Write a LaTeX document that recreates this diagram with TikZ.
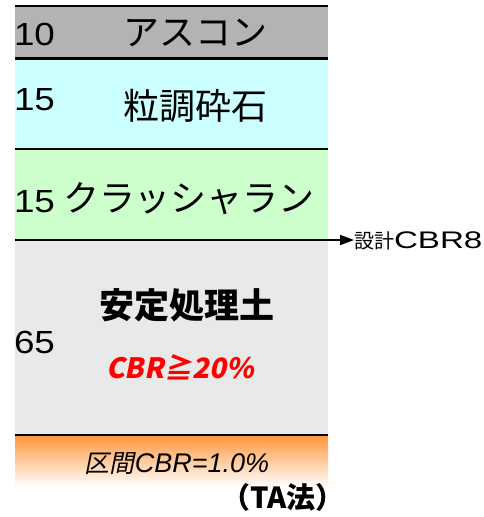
\documentclass[tikz,border=0pt]{standalone}
\usepackage{fontspec}
\setmainfont{Liberation Sans}
\newfontfamily\jp{Noto Sans CJK JP}
\newfontfamily\jpi[FakeSlant=0.2]{Noto Sans CJK JP}
\newfontfamily\latw[FakeStretch=1.15]{Liberation Sans}
\newfontfamily\latww[FakeStretch=1.38]{Liberation Sans}
\usetikzlibrary{arrows.meta}
\definecolor{asgray}{RGB}{179,179,179}
\definecolor{cyanL}{RGB}{204,255,255}
\definecolor{greenL}{RGB}{204,255,204}
\definecolor{lgray}{RGB}{233,233,233}
\definecolor{orangeT}{RGB}{255,150,60}
\definecolor{redT}{RGB}{255,0,0}
\tikzset{
  lbl/.style={inner sep=0pt, outer sep=0pt},
  bound/.style={line width=2.8pt},
  numf/.style={lbl, font=\latw\fontsize{32}{36}\selectfont},
  jpf/.style={lbl, font=\jp\fontsize{36}{40}\selectfont},
}
\begin{document}
\begin{tikzpicture}[x=1pt,y=-1pt]
\useasboundingbox (0,0) rectangle (483,517);
% layers
\fill[asgray] (15,6) rectangle (328,58);
\fill[cyanL] (15,58) rectangle (328,149);
\fill[greenL] (15,149) rectangle (328,240);
\fill[lgray] (15,240) rectangle (328,435);
\shade[top color=orangeT, bottom color=white] (15,435) rectangle (328,487);
% boundaries
\draw[bound] (15,6) -- (328,6);
\draw[bound] (15,58.5) -- (328,58.5);
\draw[bound] (15,149) -- (328,149);
\draw[bound] (15,435) -- (328,435);
% texts
\node[numf, anchor=base west] (n10) at (14,45) {10};
\node[jpf, anchor=base] (asc) at (195,45) {アスコン};
\node[numf, anchor=base west] (n15a) at (14,110) {15};
\node[jpf, anchor=base] (sek) at (195,119) {粒調砕石};
\node[numf, anchor=base west] (n15b) at (14,212) {15};
\node[jpf, anchor=base west] (cr) at (63,211) {クラッシャラン};
\node[lbl, anchor=base, font=\jp\bfseries\fontsize{35}{38}\selectfont] (antei) at (187,318) {安定処理土};
\node[numf, anchor=base west] (n65) at (14,353) {65};
\node[lbl, anchor=base, text=redT, font=\jpi\bfseries\fontsize{28}{32}\selectfont] (cbr20) at (180,378) {CBR≧20\%};
\node[lbl, anchor=base, font=\fontsize{27}{30}\selectfont] (kukan) at (177,472) {{\jpi\fontsize{25}{30}\selectfont 区間}{\itshape CBR=1.0\%}};
\node[lbl, anchor=base, font=\jp\bfseries\fontsize{29}{32}\selectfont] (ta) at (283,508) {（TA法）};
% design CBR arrow
\coordinate (lineL) at (15,240);
\node[lbl, anchor=base west] (cbr8) at (354,248) {{\jp\fontsize{20}{22}\selectfont 設計}{\latww\fontsize{24}{26}\selectfont CBR8}};
\draw[line width=1.8pt, -{Triangle[length=14pt,width=10pt]}] (lineL) -- (lineL -| cbr8.west);
\end{tikzpicture}
\end{document}
